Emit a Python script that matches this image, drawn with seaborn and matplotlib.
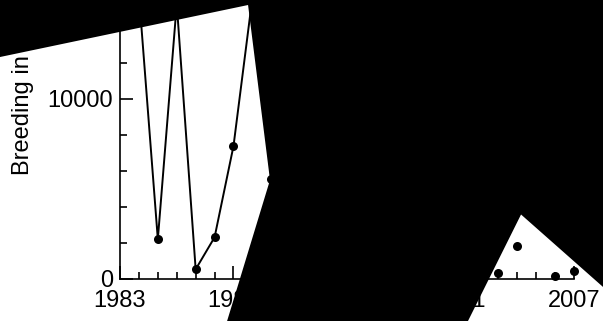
import numpy as np
import matplotlib
matplotlib.use("Agg")
import matplotlib.pyplot as plt
import seaborn as sns

# breeding counts (off-chart peaks estimated)
line_years = [1983, 1984, 1985, 1986, 1987, 1988, 1989, 1990, 1991]
line_values = [15800, 15780, 2180, 15250, 510, 2290, 7360, 15620, 5540]

point_years = [2003, 2004, 2006, 2007]
point_values = [310, 1790, 145, 420]

x_major = [1983, 1989, 1995, 2001, 2007]
y_major = [0, 10000]

# the black filled shape that covers most of the picture (year, value)
mask_years = [1975.60, 2009.59, 2009.59, 2004.20, 2000.87, 1988.34, 1990.93, 1989.77, 1975.60]
mask_values = [16583, 16583, -1450, 3556, -3472, -3472, 5472, 15194, 12072]

sns.set_theme(style="white")
plt.rcParams['font.family'] = ['Liberation Sans', 'DejaVu Sans']

fig = plt.figure(figsize=(6.03, 3.21), dpi=100)
ax = fig.add_axes([120 / 603, (321 - 278.5) / 321, 454 / 603, 278.5 / 321])

sns.lineplot(x=line_years, y=line_values, color='black', linewidth=1.4,
             marker='o', markersize=6.5, markeredgewidth=0, clip_on=False, ax=ax)
sns.scatterplot(x=point_years, y=point_values, color='black', s=6.5 ** 2,
                linewidth=0, clip_on=False, ax=ax)

ax.set_xlim(1983, 2007)
ax.set_ylim(0, 278.5 / 0.018)
ax.set_xticks(x_major)
ax.set_xticks(np.arange(1983, 2008), minor=True)
ax.set_yticks(y_major)
ax.set_yticks(np.arange(0, 16000, 2000), minor=True)
ax.set_xticklabels([str(y) for y in x_major])
ax.set_yticklabels([str(v) for v in y_major])

ax.tick_params(which='both', direction='in', color='black', width=1.2,
               labelsize=17, labelcolor='black', bottom=True, left=True)
ax.tick_params(which='major', length=9.5)
ax.tick_params(which='minor', length=5)
ax.tick_params(axis='x', pad=8.5)
ax.tick_params(axis='y', pad=5)

sns.despine(ax=ax)
for side in ['left', 'bottom']:
    ax.spines[side].set_color('black')
    ax.spines[side].set_linewidth(1.2)

ax.text((34 - 120) / 454, (278.5 - 175) / 278.5, 'Breeding in pairs',
        transform=ax.transAxes, rotation=90, rotation_mode='anchor',
        ha='left', va='bottom', fontsize=17, color='black', zorder=5)

ax.fill(mask_years, mask_values, color='black', lw=0, clip_on=False, zorder=10)

fig.savefig('out.png', dpi=100)
